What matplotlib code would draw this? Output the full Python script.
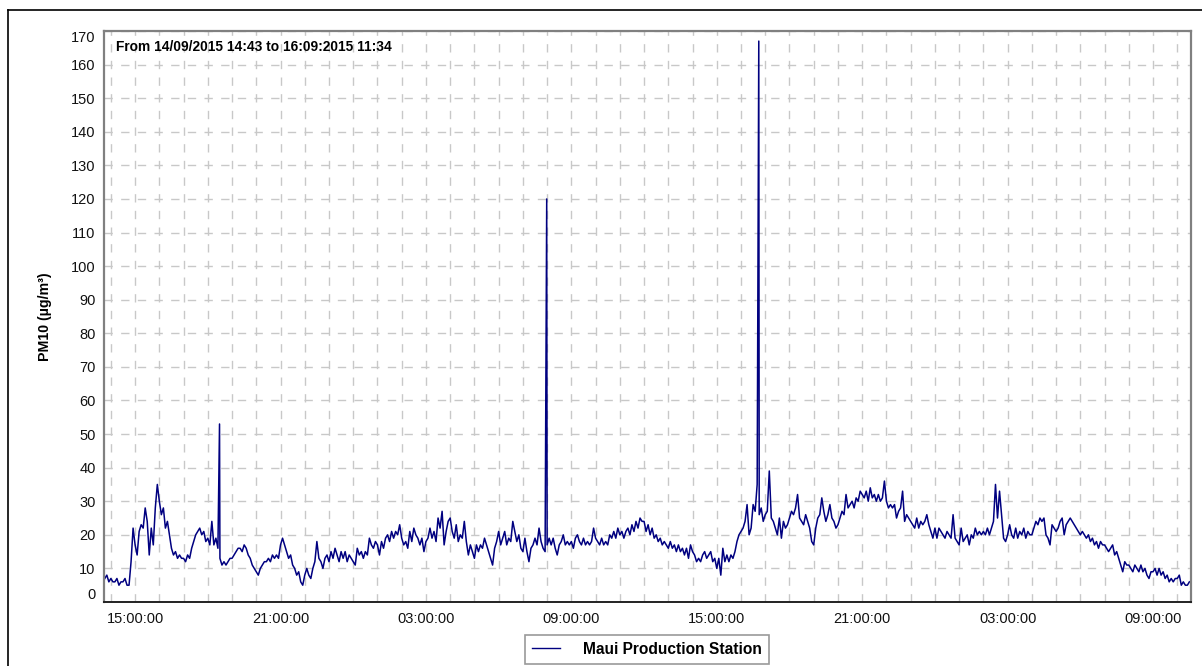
import matplotlib
matplotlib.use("Agg")
import matplotlib.pyplot as plt
import matplotlib.dates as mdates
from matplotlib.lines import Line2D
import numpy as np
import pandas as pd

plt.rcParams['font.family'] = ['Liberation Sans', 'DejaVu Sans']

# PM10 (ug/m3), one reading every 5 minutes, starting 14/09/2015 13:45 (axis time)
pm_d1_13 = [7, 8, 6, 7, 6, 6, 7, 5, 6, 6, 7, 5, 5, 12, 22]
pm_d1_15 = [17, 14, 21, 23, 22, 28, 24, 14, 22, 17, 28, 35,
            30, 26, 28, 22, 24, 20, 16, 14, 15, 13, 14, 13,
            13, 12, 14, 13, 16, 18, 20, 21, 22, 20, 21, 18,
            19, 17, 24, 17, 19, 16, 13, 11, 12, 11, 12, 13,
            13, 14, 15, 16, 16, 15, 17, 16, 14, 13, 11, 10,
            9, 8, 10, 11, 12, 12, 13, 12, 14, 13, 14, 13]
pm_d1_21 = [17, 19, 17, 15, 13, 14, 11, 10, 8, 9, 6, 5,
            8, 10, 8, 7, 10, 12, 18, 13, 12, 10, 13, 14,
            12, 15, 13, 16, 14, 12, 15, 13, 15, 12, 14, 13,
            12, 11, 16, 14, 15, 13, 15, 14, 19, 17, 16, 18,
            17, 14, 18, 16, 19, 20, 18, 21, 19, 21, 20, 23,
            19, 17, 18, 16, 21, 18, 22, 20, 19, 17, 19, 15]
pm_d2_03 = [18, 19, 22, 19, 21, 18, 25, 22, 27, 17, 21, 24,
            25, 21, 19, 23, 18, 20, 19, 24, 18, 14, 17, 15,
            13, 17, 15, 17, 16, 19, 17, 15, 13, 11, 16, 18,
            21, 17, 19, 21, 17, 19, 18, 24, 21, 18, 20, 16,
            15, 19, 15, 12, 16, 17, 19, 17, 22, 18, 16, 15,
            17, 19, 17, 19, 16, 14, 17, 18, 20, 17, 18, 17]
pm_d2_09 = [18, 16, 19, 20, 18, 17, 19, 17, 18, 17, 18, 22,
            19, 18, 17, 19, 17, 18, 17, 20, 19, 21, 19, 22,
            20, 21, 19, 21, 22, 20, 23, 21, 24, 22, 25, 24,
            24, 21, 23, 20, 22, 19, 20, 18, 19, 17, 18, 17,
            16, 18, 16, 17, 15, 17, 15, 16, 14, 16, 13, 17,
            15, 14, 12, 13, 12, 14, 15, 13, 14, 15, 12, 13]
pm_d2_15 = [10, 13, 8, 16, 12, 14, 12, 14, 13, 15, 18, 20,
            21, 22, 24, 29, 20, 22, 29, 27, 35, 26, 28, 24,
            26, 27, 39, 25, 24, 22, 20, 25, 19, 24, 22, 23,
            25, 27, 26, 28, 32, 25, 24, 23, 26, 24, 22, 18,
            17, 22, 25, 26, 31, 27, 24, 26, 29, 25, 24, 22,
            23, 25, 27, 26, 32, 28, 29, 30, 28, 31, 30, 33]
pm_d2_21 = [32, 31, 33, 30, 34, 31, 32, 30, 32, 30, 31, 36,
            30, 28, 29, 28, 29, 25, 27, 28, 33, 24, 26, 25,
            24, 23, 22, 25, 22, 24, 23, 24, 26, 23, 21, 19,
            22, 19, 22, 21, 20, 19, 21, 20, 19, 26, 19, 18,
            17, 22, 18, 19, 20, 17, 20, 19, 22, 20, 21, 20,
            21, 20, 22, 20, 22, 24, 35, 25, 33, 26, 19, 18]
pm_d3_03 = [20, 23, 20, 19, 22, 19, 21, 20, 22, 19, 21, 20,
            20, 22, 24, 23, 25, 24, 25, 20, 19, 17, 23, 22,
            21, 22, 24, 25, 20, 23, 24, 25, 24, 23, 22, 21,
            20, 21, 20, 19, 20, 18, 19, 17, 18, 16, 18, 17,
            17, 16, 15, 16, 17, 14, 15, 13, 11, 9, 12, 11,
            11, 10, 9, 11, 10, 9, 11, 9, 10, 8, 7, 9]
pm_d3_09 = [9, 10, 8, 10, 8, 9, 7, 8, 6, 7, 6, 7,
            7, 8, 5, 6, 5, 5, 6]

# short spikes between the 5-minute readings
spike_times = ["2015-09-14 18:29", "2015-09-15 07:59", "2015-09-15 16:44"]
spike_values = [53, 120, 167]

values = (pm_d1_13 + pm_d1_15 + pm_d1_21 + pm_d2_03 + pm_d2_09
          + pm_d2_15 + pm_d2_21 + pm_d3_03 + pm_d3_09)
times = pd.date_range("2015-09-14 13:45", periods=len(values), freq="5min")
series = pd.Series(values, index=times)
spikes = pd.Series(spike_values, index=pd.to_datetime(spike_times))
series = pd.concat([series, spikes]).sort_index()

fig = plt.figure(figsize=(12.02, 6.66), dpi=100)
ax = fig.add_axes([104 / 1202, 1 - 602 / 666, (1191 - 104) / 1202, (602 - 31) / 666])

ax.plot(series.index, series.values, color='#000080', lw=1.1)

ax.set_xlim(pd.Timestamp("2015-09-14 13:43"), pd.Timestamp("2015-09-16 10:34"))
ax.set_ylim(0, 170)
ax.set_yticks(np.arange(0, 171, 10))
ax.xaxis.set_major_locator(mdates.HourLocator(byhour=[3, 9, 15, 21]))
ax.xaxis.set_minor_locator(mdates.HourLocator())
ax.xaxis.set_major_formatter(mdates.DateFormatter("%H:%M:%S"))

ax.grid(True, which='both', axis='x', color='#c8c8c8', ls=(0, (6, 6)), lw=1)
ax.grid(True, which='major', axis='y', color='#c8c8c8', ls=(0, (6, 6)), lw=1)
ax.set_axisbelow(True)

ax.tick_params(axis='both', which='both', length=0, labelsize=10.5, colors='#111111')
ax.tick_params(axis='y', pad=6)
ax.tick_params(axis='x', pad=7)
ylabels = ax.get_yticklabels()
ylabels[0].set_va('bottom')
ylabels[-1].set_va('top')

for side in ['top', 'right', 'left']:
    ax.spines[side].set_color('#808080')
    ax.spines[side].set_linewidth(1.6)
ax.spines['bottom'].set_color('#222222')
ax.spines['bottom'].set_linewidth(1.4)

ax.set_ylabel("PM10 (µg/m³)", fontsize=10.2, fontweight='bold', labelpad=14)
ax.text(0.011, 0.985, "From 14/09/2015 14:43 to 16:09:2015 11:34", transform=ax.transAxes,
        fontsize=9.9, fontweight='bold', va='top', ha='left')

handle = Line2D([], [], color='#000080', lw=1.0)
leg = fig.legend([handle], ["Maui Production Station"], loc='center',
                 bbox_to_anchor=(647 / 1202, 1 - 649 / 666), frameon=True, fancybox=False,
                 prop={'weight': 'bold', 'size': 11.2}, handlelength=1.75, handletextpad=1.5,
                 borderpad=0.45, borderaxespad=0)
leg.get_frame().set_edgecolor('#808080')
leg.get_frame().set_linewidth(1.2)

# outer frame of the exported image
fig.add_artist(Line2D([8 / 1202, 1.0], [1 - 10 / 666, 1 - 10 / 666], color='black', lw=1.2))
fig.add_artist(Line2D([8 / 1202, 8 / 1202], [0, 1 - 10 / 666], color='black', lw=1.2))

fig.savefig("out.png", dpi=100)
